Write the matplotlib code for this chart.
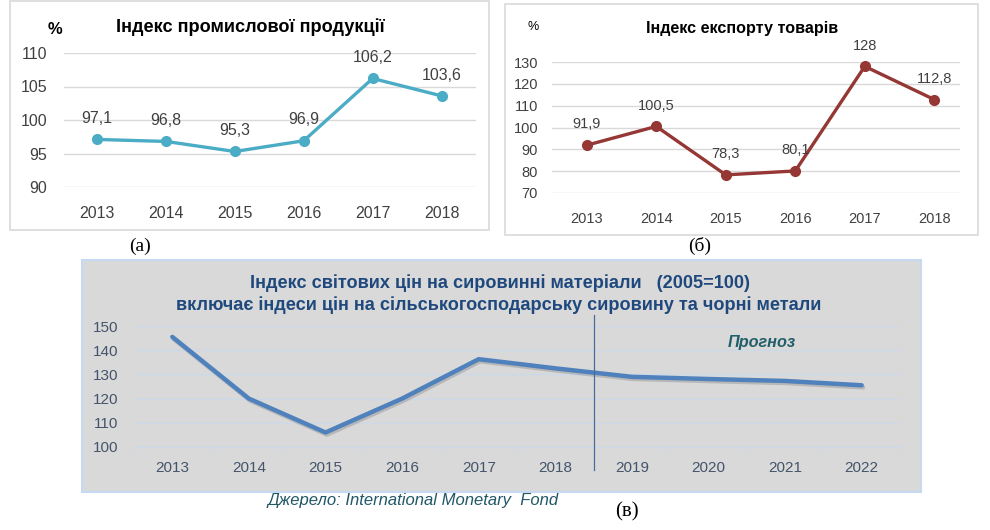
import matplotlib
matplotlib.use("Agg")
import matplotlib.pyplot as plt
from matplotlib.patches import Rectangle
import matplotlib.patheffects as pe

# ---------------- data ----------------
years_a = ["2013", "2014", "2015", "2016", "2017", "2018"]
ind_prod = [97.1, 96.8, 95.3, 96.9, 106.2, 103.6]
ind_prod_labels = ["97,1", "96,8", "95,3", "96,9", "106,2", "103,6"]
yticks_a = [90, 95, 100, 105, 110]

years_b = ["2013", "2014", "2015", "2016", "2017", "2018"]
ind_export = [91.9, 100.5, 78.3, 80.1, 128, 112.8]
ind_export_labels = ["91,9", "100,5", "78,3", "80,1", "128", "112,8"]
yticks_b = [70, 80, 90, 100, 110, 120, 130]

years_c = ["2013", "2014", "2015", "2016", "2017", "2018", "2019", "2020", "2021", "2022"]
commodity = [145.5, 120.0, 106.0, 120.0, 136.3, 132.5, 129.0, 128.1, 127.3, 125.5]
yticks_c = [100, 110, 120, 130, 140, 150]

W, H = 990, 530
fig = plt.figure(figsize=(W / 100, H / 100), dpi=100)
fig.patch.set_facecolor("white")
SANS = ["Liberation Sans", "DejaVu Sans"]
SERIF = ["Liberation Serif", "DejaVu Serif"]


def box(x0, y0, x1, y1):
    return [x0 / W, 1 - y1 / H, (x1 - x0) / W, (y1 - y0) / H]


def frame(x0, y0, x1, y1, fc="white", ec="#d9d9d9", lw=1.2):
    r = Rectangle((x0 / W, 1 - y1 / H), (x1 - x0) / W, (y1 - y0) / H,
                  transform=fig.transFigure, facecolor=fc, edgecolor=ec,
                  linewidth=lw, zorder=-10)
    fig.patches.append(r)


def ftext(x, y, s, **kw):
    fig.text(x / W, 1 - y / H, s, **kw)


# ---------------- frames ----------------
frame(10, 1, 489, 230)
frame(505, 4, 978, 235)
frame(82, 260, 921, 492, fc="#d9d9d9", ec="#c6d9f1", lw=1.5)

# ---------------- panel (a) ----------------
ax = fig.add_axes(box(64, 53, 476, 187))
ax.set_zorder(1)
x = range(len(years_a))
ax.plot(x, ind_prod, color="#4bacc6", lw=2.4, marker="o", ms=7,
        clip_on=False, zorder=3)
for xi, v, s in zip(x, ind_prod, ind_prod_labels):
    ax.annotate(s, (xi, v), xytext=(0, 15), textcoords="offset points",
                ha="center", va="center", fontsize=11.5, color="#404040",
                family=SANS)
ax.set_xlim(-0.48, 5.5)
ax.set_ylim(90, 110)
ax.set_yticks(yticks_a)
ax.set_xticks(list(x))
ax.set_xticklabels(years_a)
ax.grid(axis="y", color="#d9d9d9", lw=1)
ax.set_axisbelow(True)
for sp in ax.spines.values():
    sp.set_visible(False)
ax.tick_params(length=0, labelsize=11.5, labelcolor="#404040")
ax.tick_params(axis="y", pad=12)
ax.tick_params(axis="x", pad=14)
for t in ax.get_xticklabels() + ax.get_yticklabels():
    t.set_family(SANS)
ax.patch.set_alpha(0)
ftext(250, 27, "Індекс промислової продукції", ha="center", va="center",
      fontsize=13.1, fontweight="bold", color="black", family=SANS)
ftext(55, 29, "%", ha="center", va="center", fontsize=12, fontweight="bold",
      color="black", family=SANS)

# ---------------- panel (б) ----------------
ax = fig.add_axes(box(552, 62, 960, 193))
ax.set_zorder(1)
x = range(len(years_b))
ax.plot(x, ind_export, color="#953735", lw=2.4, marker="o", ms=7,
        clip_on=False, zorder=3)
for xi, v, s in zip(x, ind_export, ind_export_labels):
    ax.annotate(s, (xi, v), xytext=(0, 15), textcoords="offset points",
                ha="center", va="center", fontsize=10.5, color="#404040",
                family=SANS)
ax.set_xlim(-0.5, 5.37)
ax.set_ylim(70, 130)
ax.set_yticks(yticks_b)
ax.set_xticks(list(x))
ax.set_xticklabels(years_b)
ax.grid(axis="y", color="#d9d9d9", lw=1)
ax.set_axisbelow(True)
for sp in ax.spines.values():
    sp.set_visible(False)
ax.tick_params(length=0, labelsize=10.5, labelcolor="#404040")
ax.tick_params(axis="y", pad=10)
ax.tick_params(axis="x", pad=14)
for t in ax.get_xticklabels() + ax.get_yticklabels():
    t.set_family(SANS)
ax.patch.set_alpha(0)
ftext(742, 29, "Індекс експорту товарів", ha="center", va="center",
      fontsize=11.6, fontweight="bold", color="black", family=SANS)
ftext(533, 27, "%", ha="center", va="center", fontsize=9,
      color="black", family=SANS)

# panel labels
ftext(140, 246, "(a)", ha="center", va="center", fontsize=14,
      color="black", family=SERIF)
ftext(700, 246, "(б)", ha="center", va="center", fontsize=14,
      color="black", family=SERIF)

# ---------------- panel (в) ----------------
ax = fig.add_axes(box(134, 326, 900, 447))
ax.set_zorder(1)
x = range(len(years_c))
ax.plot(x, commodity, color="#4f81bd", lw=3.2, solid_capstyle="round",
        solid_joinstyle="round", zorder=3,
        path_effects=[pe.SimpleLineShadow(offset=(1.0, -1.5), alpha=0.18,
                                          shadow_color="#202020"),
                      pe.Normal()])
ax.set_xlim(-0.5, 9.5)
ax.set_ylim(100, 150)
ax.set_yticks(yticks_c)
ax.set_xticks(list(x))
ax.set_xticklabels(years_c)
ax.set_xticks([i - 0.5 for i in range(len(years_c) + 1)], minor=True)
ax.grid(axis="y", color="#cdd9e8", lw=1)
ax.set_axisbelow(True)
for k, sp in ax.spines.items():
    sp.set_visible(k == "bottom")
ax.spines["bottom"].set_color("#cdd9e8")
ax.spines["bottom"].set_linewidth(1)
ax.tick_params(axis="both", which="major", length=0, labelsize=11,
               labelcolor="#44546a")
ax.tick_params(axis="x", which="minor", length=4, color="#cdd9e8",
               direction="out")
ax.tick_params(axis="y", pad=11)
ax.tick_params(axis="x", pad=10)
for t in ax.get_xticklabels() + ax.get_yticklabels():
    t.set_family(SANS)
ax.patch.set_alpha(0)
ax.plot([5.5, 5.5], [90.5, 154.5], color="#4a6a9a", lw=0.9,
        clip_on=False, zorder=6)

ftext(500, 283, "Індекс світових цін на сировинні матеріали   (2005=100)",
      ha="center", va="center", fontsize=13.1, fontweight="bold",
      color="#1f497d", family=SANS)
ftext(499, 305, "включає індеси цін на сільськогосподарську сировину та чорні метали",
      ha="center", va="center", fontsize=13.1, fontweight="bold",
      color="#1f497d", family=SANS)
ftext(762, 342, "Прогноз", ha="center", va="center", fontsize=11.7,
      fontweight="bold", style="italic", color="#215f6a", family=SANS)
ftext(413, 501, "Джерело: International Monetary  Fond", ha="center",
      va="center", fontsize=12, style="italic", color="#215868", family=SANS)
ftext(627, 512, "(в)", ha="center", va="center", fontsize=15,
      color="black", family=SERIF)

fig.savefig("out.png", dpi=100)
